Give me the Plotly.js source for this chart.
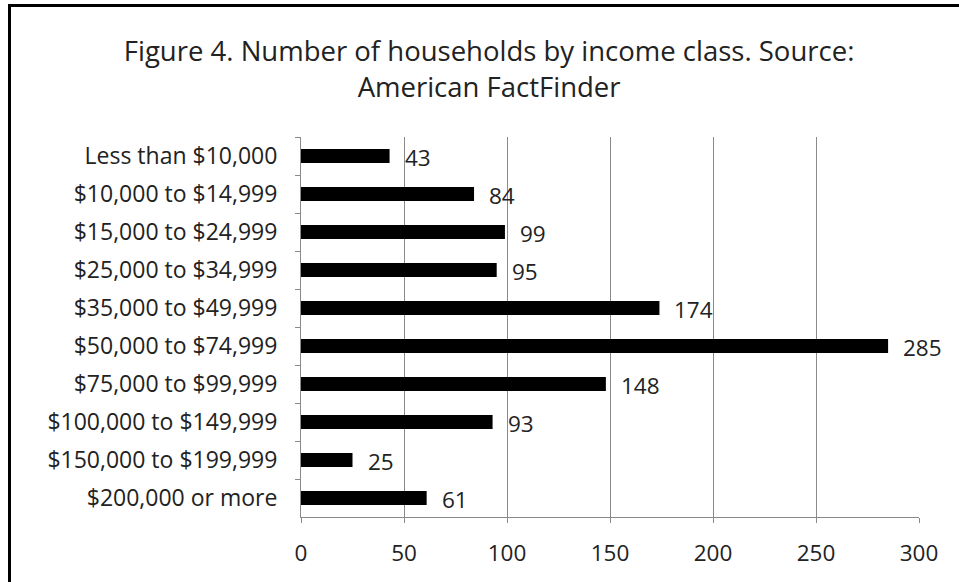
<!DOCTYPE html>
<html>
<head>
<meta charset="utf-8">
<script src="https://cdn.plot.ly/plotly-3.0.1.min.js"></script>
<style>
  html, body { margin: 0; padding: 0; background: #fff; }
  #wrap { position: relative; width: 959px; height: 582px; overflow: hidden; }
  #chart { width: 959px; height: 582px; }
  #bt { position: absolute; left: 8px; top: 4px; width: 951px; height: 3px; background: #000; }
  #bl { position: absolute; left: 8px; top: 4px; width: 3px; height: 578px; background: #000; }
</style>
</head>
<body>
<div id="wrap">
  <div id="chart"></div>
  <div id="bt"></div>
  <div id="bl"></div>
</div>
<script>
const categories = [
  "Less than $10,000",
  "$10,000 to $14,999",
  "$15,000 to $24,999",
  "$25,000 to $34,999",
  "$35,000 to $49,999",
  "$50,000 to $74,999",
  "$75,000 to $99,999",
  "$100,000 to $149,999",
  "$150,000 to $199,999",
  "$200,000 or more"
];
const households = [43, 84, 99, 95, 174, 285, 148, 93, 25, 61];
const xTicks = [0, 50, 100, 150, 200, 250, 300];
const titleText = "Figure 4. Number of households by income class. Source:<br>American FactFinder";

const FONT = "'Open Sans', Lato, sans-serif";
const TXT = "#222";

const trace = {
  type: "bar",
  orientation: "h",
  x: households,
  y: categories,
  marker: { color: "#000", line: { width: 0 } },
  hoverinfo: "x+y"
};

const annotations = households.map((v, i) => ({
  x: v, y: categories[i], xref: "x", yref: "y",
  text: String(v), showarrow: false,
  xanchor: "left", yanchor: "middle",
  xshift: 13, yshift: -1,
  font: { family: FONT, size: 22.5, color: TXT }
}));

const layout = {
  width: 959, height: 582,
  margin: { l: 301, r: 40, t: 137, b: 65, pad: 0 },
  paper_bgcolor: "#fff",
  plot_bgcolor: "#fff",
  showlegend: false,
  bargap: 0.63,
  title: {
    text: titleText,
    font: { family: FONT, size: 27.5, color: TXT },
    x: 0.51, xanchor: "center", xref: "container",
    y: 1 - 61 / 582, yanchor: "middle", yref: "container"
  },
  xaxis: {
    range: [0, 300],
    tickvals: xTicks,
    ticktext: xTicks.map(String),
    showgrid: true, gridcolor: "#8a8a8a", gridwidth: 1,
    zeroline: false,
    showline: true, linecolor: "#8a8a8a", linewidth: 1,
    ticks: "outside", ticklen: 5, tickcolor: "#8a8a8a",
    ticklabelstandoff: 11,
    tickfont: { family: FONT, size: 22.5, color: TXT },
    fixedrange: true
  },
  yaxis: {
    type: "category",
    autorange: "reversed",
    showgrid: false,
    zeroline: false,
    showline: true, linecolor: "#8a8a8a", linewidth: 1,
    ticks: "outside", ticklen: 5, tickcolor: "#8a8a8a",
    tickson: "boundaries",
    ticklabelstandoff: 18,
    tickfont: { family: FONT, size: 23, color: TXT },
    fixedrange: true
  },
  annotations: annotations
};

Plotly.newPlot("chart", [trace], layout, { displayModeBar: false, staticPlot: true });
</script>
</body>
</html>
